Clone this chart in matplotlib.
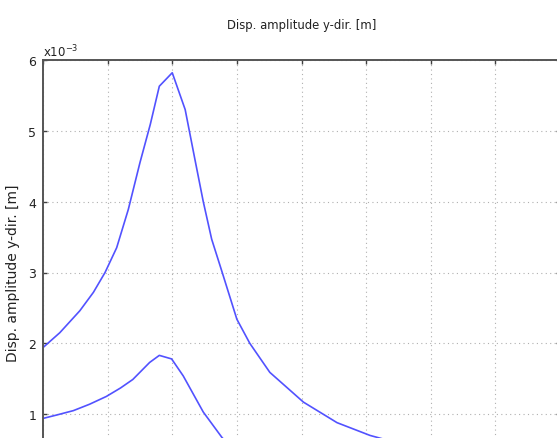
import matplotlib
matplotlib.use("Agg")
import matplotlib.pyplot as plt

# Data (displacement in units of 1e-3 m), x in grid units
x_upper = [0.0, 0.26, 0.57, 0.78, 0.96, 1.14, 1.32, 1.50, 1.66, 1.80, 2.00,
           2.20, 2.35, 2.48, 2.61, 2.77, 3.00, 3.20, 3.51, 4.03, 4.55, 5.06, 5.5, 6.0]
y_upper = [1.94, 2.15, 2.46, 2.72, 3.00, 3.35, 3.89, 4.55, 5.09, 5.63, 5.82,
           5.30, 4.60, 4.00, 3.47, 3.01, 2.34, 2.00, 1.59, 1.17, 0.88, 0.70, 0.59, 0.49]
x_lower = [0.0, 0.22, 0.47, 0.72, 0.98, 1.20, 1.39, 1.65, 1.80, 1.99,
           2.17, 2.48, 2.77, 3.0]
y_lower = [0.94, 0.99, 1.05, 1.14, 1.25, 1.37, 1.49, 1.73, 1.83, 1.78,
           1.54, 1.03, 0.67, 0.45]

yticks = [0, 1, 2, 3, 4, 5, 6]
ytick_labels = ['', '1', '2', '3', '4', '5', '6']
xticks = [0, 1, 2, 3, 4, 5, 6, 7, 8]

W, H = 557, 439
fig = plt.figure(figsize=(W / 100, H / 100), dpi=100)
left, right, top, bottom = 43, 560, 61, 486
ax = fig.add_axes([left / W, 1 - bottom / H, (right - left) / W, (bottom - top) / H])

col = '#5252ff'
ax.plot(x_upper, y_upper, color=col, lw=1.2)
ax.plot(x_lower, y_lower, color=col, lw=1.2)

ax.set_xlim(0, 8)
ax.set_ylim(0, 6)
ax.set_xticks(xticks)
ax.set_yticks(yticks)
ax.set_yticklabels(ytick_labels)
ax.set_xticklabels([])
ax.grid(True, linestyle=(0, (1, 3)), color='#b0b0b0', lw=0.8)
ax.tick_params(direction='in', length=3, width=1, color='#404040',
               labelsize=9, top=True, right=True, labelcolor='#222222', pad=5)
for s in ax.spines.values():
    s.set_color('#555555')
    s.set_linewidth(1.4)

ax.set_ylabel('Disp. amplitude y-dir. [m]', fontsize=10, color='#222222', labelpad=6)
ax.text(0.0, 1.002, r'x10$^{-3}$', transform=ax.transAxes, fontsize=8.5,
        ha='left', va='bottom', color='#222222')
fig.text(302 / W, 1 - 25 / H, 'Disp. amplitude y-dir. [m]', fontsize=8.4,
         ha='center', va='center', color='#222222')

fig.savefig('out.png', dpi=100)
